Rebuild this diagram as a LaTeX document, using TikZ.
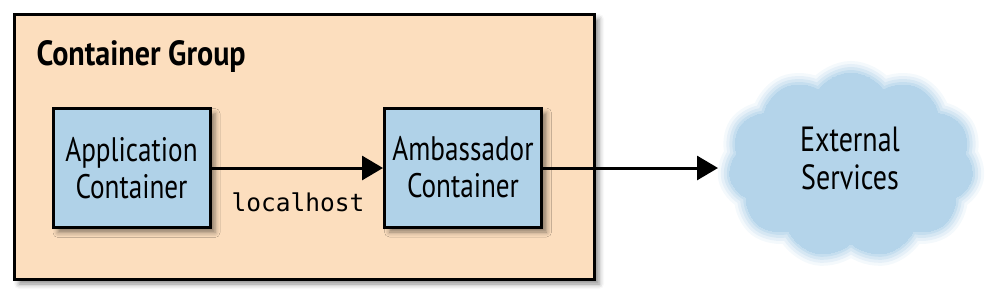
\documentclass[tikz,border=0pt]{standalone}
\usepackage{fontspec}
\setmainfont{PT Sans}[FakeStretch=0.8]
\newfontfamily\titlefont{PT Sans Bold}[FakeStretch=0.86]
\setmonofont{DejaVu Sans Mono}
\usetikzlibrary{shapes.symbols,shadows.blur,arrows.meta}
\definecolor{peach}{RGB}{252,222,190}
\definecolor{boxblue}{RGB}{176,210,232}
\definecolor{cloudblue}{RGB}{180,212,234}
\tikzset{
  shad/.style={blur shadow={shadow xshift=5pt,shadow yshift=-5pt,shadow blur radius=5pt,shadow opacity=45}},
  group/.style={draw=black,line width=3pt,fill=peach,minimum width=580pt,minimum height=265pt,shad},
  cbox/.style={draw=black,line width=3pt,fill=boxblue,minimum width=157pt,minimum height=119pt,align=center,
     font=\fontsize{34}{37}\selectfont,shad},
  conn/.style={line width=3pt,-{Triangle[length=21pt,width=24pt]}},
  cloudlayer/.style={cloud,cloud puffs=11,cloud puff arc=110,aspect=1.35,minimum width=244pt,minimum height=184pt,draw=cloudblue,fill=cloudblue}
}
\begin{document}
\begin{tikzpicture}[x=1pt,y=-1pt]
\useasboundingbox (0,0) rectangle (986,306);
\node[group] (grp) at (304,146.5) {};
\node[anchor=base west,font=\titlefont\fontsize{35}{37}\selectfont] (title) at (33,65) {Container Group};
\node[cbox] (app) at (131.5,168) {Application\\Container};
\node[cbox] (amb) at (463,167.5) {Ambassador\\Container};
\foreach \lw/\op in {24/0.15,18/0.22,12/0.32,6/0.5}{
  \node[cloudlayer,line width=\lw pt,opacity=\op] at (851,165) {};
}
\node[cloudlayer,line width=0pt] (ext) at (851,165) {};
\node[align=center,font=\fontsize{35}{38}\selectfont] (exttext) at (850,158) {External\\Services};
\coordinate (cloudin) at (718,168);
\draw[conn] (app.east |- 0,168) -- (amb.west |- 0,168);
\node[font=\ttfamily\fontsize{24.5}{28}\selectfont] (lh) at (298,202) {localhost};
\draw[conn] (amb.east |- 0,168) -- (cloudin);
\end{tikzpicture}
\end{document}
